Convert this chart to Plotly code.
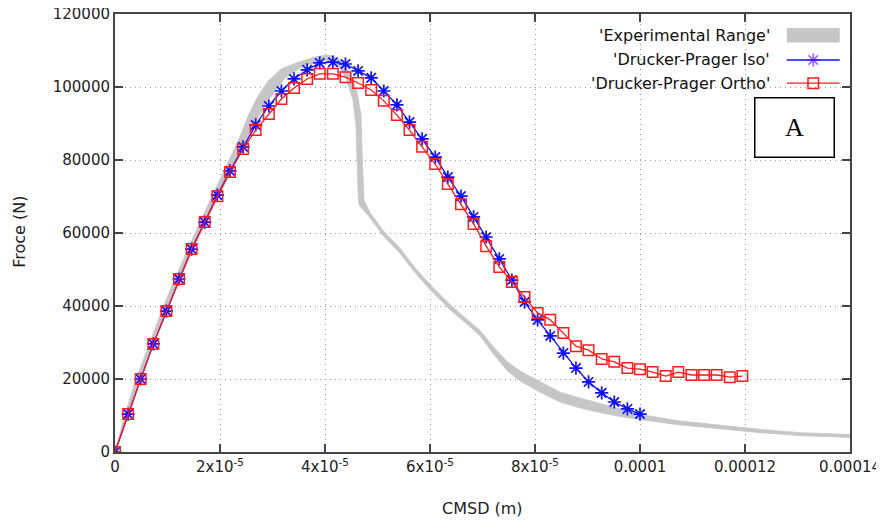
import plotly.graph_objects as go

# experimental range band: outer (upper/right) and inner (lower/left) edge
exp_upper_x = [0, 1.714e-6, 3.81e-6, 6.286e-6, 8.571e-6, 1.105e-5, 1.371e-5, 1.638e-5, 1.886e-5,
               2.133e-5, 2.362e-5, 2.552e-5, 2.724e-5, 2.914e-5, 3.162e-5, 3.486e-5, 3.81e-5,
               4.019e-5, 4.152e-5, 4.286e-5, 4.476e-5, 4.61e-5, 4.686e-5, 4.705e-5, 4.724e-5,
               4.743e-5, 4.857e-5, 5.105e-5, 5.429e-5, 5.714e-5, 6.0e-5, 6.381e-5, 6.667e-5,
               6.952e-5, 7.2e-5, 7.467e-5, 7.714e-5, 8.095e-5, 8.476e-5, 8.857e-5, 9.238e-5,
               9.619e-5, 1.0e-4, 1.076e-4, 1.152e-4, 1.229e-4, 1.305e-4, 1.4e-4]
exp_upper_y = [0, 9300, 19200, 29000, 37500, 46300, 55100, 63600, 71200,
               78600, 85800, 92600, 97500, 101600, 104900, 106800, 108200,
               108800, 108500, 107400, 104100, 98600, 92300, 82700, 73200,
               69000, 65600, 60700, 55800, 50500, 45900, 40400, 36800,
               33300, 28900, 24800, 22200, 19200, 16400, 14800, 13300,
               11600, 10300, 8500, 7300, 6200, 5300, 4800]
exp_lower_x = [0, 2.286e-6, 4.571e-6, 7.048e-6, 9.524e-6, 1.219e-5, 1.486e-5, 1.752e-5, 2.0e-5,
               2.229e-5, 2.476e-5, 2.667e-5, 2.838e-5, 3.029e-5, 3.238e-5, 3.524e-5, 3.829e-5,
               4.019e-5, 4.114e-5, 4.248e-5, 4.4e-5, 4.533e-5, 4.59e-5, 4.61e-5, 4.629e-5,
               4.648e-5, 4.857e-5, 5.105e-5, 5.429e-5, 5.714e-5, 6.0e-5, 6.381e-5, 6.667e-5,
               6.952e-5, 7.2e-5, 7.467e-5, 7.714e-5, 8.095e-5, 8.476e-5, 8.857e-5, 9.238e-5,
               9.619e-5, 1.0e-4, 1.076e-4, 1.152e-4, 1.229e-4, 1.305e-4, 1.4e-4]
exp_lower_y = [0, 9300, 19700, 29300, 38100, 47100, 55300, 63600, 70700,
               77300, 84400, 89900, 94800, 98600, 102500, 105200, 106800,
               107400, 106800, 105800, 102500, 96400, 89600, 80000, 71800,
               67700, 64200, 59300, 54400, 49200, 44500, 39000, 35500,
               31900, 27000, 22300, 19500, 16400, 13700, 12100, 10800,
               9700, 8900, 7400, 6400, 5300, 4500, 4000]

# simulation results
cmsd = [0, 2.5e-6, 4.9e-6, 7.3e-6, 9.8e-6, 1.22e-5, 1.46e-5, 1.71e-5, 1.95e-5, 2.19e-5,
        2.44e-5, 2.68e-5, 2.93e-5, 3.17e-5, 3.41e-5, 3.66e-5, 3.9e-5, 4.15e-5, 4.39e-5, 4.63e-5,
        4.88e-5, 5.12e-5, 5.37e-5, 5.61e-5, 5.85e-5, 6.1e-5, 6.34e-5, 6.59e-5, 6.83e-5, 7.07e-5,
        7.32e-5, 7.56e-5, 7.8e-5, 8.05e-5, 8.29e-5, 8.54e-5, 8.78e-5, 9.02e-5, 9.27e-5, 9.51e-5,
        9.76e-5, 1.0e-4, 1.024e-4, 1.049e-4, 1.073e-4, 1.098e-4, 1.122e-4, 1.146e-4, 1.171e-4,
        1.195e-4]
dp_iso = [0, 10400, 20000, 29600, 38600, 47400, 55600, 63000, 70400, 77000,
          83600, 89600, 94800, 98900, 102200, 104700, 106600, 106800, 106300, 104400,
          102500, 98900, 95100, 90400, 85800, 80800, 75300, 70100, 64400, 58900,
          52900, 47100, 41100, 36200, 31800, 27100, 23000, 19200, 16200, 13700,
          11800, 10400]
dp_ortho = [0, 10400, 20000, 29600, 38600, 47400, 55600, 63000, 70100, 76700,
            83000, 88200, 92600, 96700, 99700, 102200, 103600, 103600, 102700, 101100,
            99200, 96200, 92300, 88200, 83600, 78900, 73400, 67900, 62500, 56400,
            50700, 46600, 42500, 38100, 36200, 32600, 29000, 27900, 25500, 24700,
            23000, 22700, 21900, 20800, 21900, 21100, 21100, 21100, 20500, 20800]

x_ticks = [0, 2e-5, 4e-5, 6e-5, 8e-5, 1e-4, 1.2e-4, 1.4e-4]
x_ticktext = ["0", "2x10<sup>-5</sup>", "4x10<sup>-5</sup>", "6x10<sup>-5</sup>",
              "8x10<sup>-5</sup>", "0.0001", "0.00012", "0.00014"]
legend_names = ["'Experimental Range'", "'Drucker-Prager Iso'", "'Drucker-Prager Ortho'"]

FONT = "DejaVu Sans, sans-serif"
GRAY = "#c6c6c6"
BLUE = "#1010ff"
RED = "#ff1a1a"

fig = go.Figure()

fig.add_trace(go.Scatter(
    x=exp_upper_x + exp_lower_x[::-1], y=exp_upper_y + exp_lower_y[::-1],
    mode="lines", fill="toself", fillcolor=GRAY,
    line=dict(color=GRAY, width=0.8), showlegend=False, hoverinfo="skip"))

fig.add_trace(go.Scatter(
    x=cmsd[:len(dp_iso)], y=dp_iso, mode="lines+markers", showlegend=False,
    line=dict(color=BLUE, width=1.3),
    marker=dict(symbol="asterisk-open", size=11, line=dict(color=BLUE, width=1.7))))

fig.add_trace(go.Scatter(
    x=cmsd, y=dp_ortho, mode="lines+markers", showlegend=False,
    line=dict(color=RED, width=1.3),
    marker=dict(symbol="square-open", size=10.5, color=RED, line=dict(color=RED, width=1.5))))

# legend samples drawn on an overlay axis in [0, 1] so the symbols sit right of the text
leg_y = [0.952, 0.895, 0.842]
fig.add_trace(go.Scatter(x=[0.95], y=[leg_y[1]], xaxis="x2", yaxis="y2", mode="markers",
                         showlegend=False, hoverinfo="skip",
                         marker=dict(symbol="asterisk-open", size=11,
                                     line=dict(color=BLUE, width=1.7))))
fig.add_trace(go.Scatter(x=[0.95], y=[leg_y[2]], xaxis="x2", yaxis="y2", mode="markers",
                         showlegend=False, hoverinfo="skip",
                         marker=dict(symbol="square-open", size=10.5, color=RED,
                                     line=dict(color=RED, width=1.5))))

shapes = [
    dict(type="rect", xref="paper", yref="paper", x0=0.914, x1=0.986, y0=0.935, y1=0.968,
         fillcolor=GRAY, line=dict(width=0)),
    dict(type="line", xref="paper", yref="paper", x0=0.914, x1=0.986, y0=leg_y[1], y1=leg_y[1],
         line=dict(color=BLUE, width=1.3)),
    dict(type="line", xref="paper", yref="paper", x0=0.914, x1=0.986, y0=leg_y[2], y1=leg_y[2],
         line=dict(color=RED, width=1.3)),
]

annotations = [
    dict(text=name, xref="paper", yref="paper", x=0.894, y=yy, xanchor="right",
         yanchor="middle", showarrow=False, font=dict(family=FONT, size=16, color="#111"))
    for name, yy in zip(legend_names, leg_y)
]
annotations += [
    dict(text="A", xref="paper", yref="paper", x=0.925, y=0.740, xanchor="center",
         yanchor="middle", showarrow=False, width=78, height=58, borderpad=0,
         bordercolor="#000", borderwidth=1.5, bgcolor="#fff",
         font=dict(family="Liberation Serif, serif", size=26, color="#000")),
    dict(text="CMSD (m)", xref="paper", yref="paper", x=0.5, y=-0.128, xanchor="center",
         yanchor="middle", showarrow=False, font=dict(family=FONT, size=16, color="#222")),
    dict(text="Froce (N)", xref="paper", yref="paper", x=-0.131, y=0.502, xanchor="center",
         yanchor="middle", textangle=-90, showarrow=False,
         font=dict(family=FONT, size=16, color="#222")),
]

axis_common = dict(
    showline=True, linecolor="#444", linewidth=2, mirror="ticks",
    ticks="inside", ticklen=8, tickwidth=1.5, tickcolor="#444",
    showgrid=True, gridcolor="#9a9a9a", gridwidth=1, griddash="1px,4px",
    zeroline=False, automargin=False, ticklabeloverflow="allow",
    tickfont=dict(family=FONT, size=15, color="#222"),
)

# the page body adds an 8px offset, so the margins are shifted to compensate
fig.update_layout(
    width=884, height=522,
    margin=dict(l=107, r=42, t=6, b=78),
    plot_bgcolor="#fff", paper_bgcolor="#fff",
    shapes=shapes, annotations=annotations,
    xaxis=dict(range=[0, 1.4e-4], tickvals=x_ticks, ticktext=x_ticktext, **axis_common),
    yaxis=dict(range=[0, 120000], dtick=20000, tickformat="d", **axis_common),
    xaxis2=dict(overlaying="x", range=[0, 1], visible=False),
    yaxis2=dict(overlaying="y", range=[0, 1], visible=False),
)

fig.write_html("out.html")
